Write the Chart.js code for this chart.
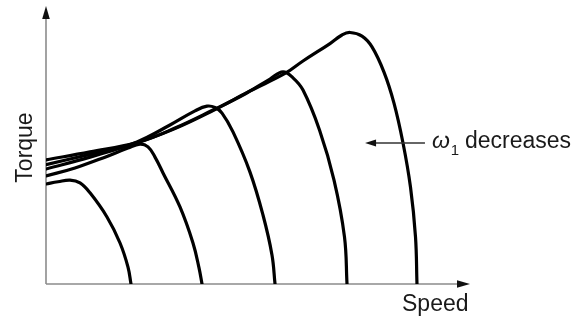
<!DOCTYPE html>
<html>
<head>
<meta charset="utf-8">
<style>
  html, body { margin: 0; padding: 0; background: #fff; }
  #wrap { width: 576px; height: 324px; position: relative; }
</style>
<script src="https://cdn.jsdelivr.net/npm/chart.js@4/dist/chart.umd.min.js"></script>
</head>
<body>
<div id="wrap"><canvas id="c" width="576" height="324"></canvas></div>
<script>
// Torque-speed curves (arbitrary units, axis range 0..100)
const curve1Speed  = [0, 2.84, 5.69, 8.06, 10.43, 14.45, 17.54, 19.43, 20.14];
const curve1Torque = [36.1, 36.9, 37.5, 36.5, 32.9, 24.2, 14.8, 6.1, 0];

const curve2Speed  = [0, 6.87, 13.98, 19.43, 22.27, 24.17, 25.83, 27.73, 31.75, 34.83, 36.26, 36.97];
const curve2Torque = [39.0, 41.9, 45.8, 49.1, 50.5, 49.5, 45.8, 40.1, 27.8, 14.8, 5.8, 0];

const curve3Speed  = [0, 10.43, 21.56, 29.38, 35.31, 38.15, 40.05, 41.71, 44.31, 48.34, 51.42, 53.55, 54.27];
const curve3Torque = [41.5, 45.8, 51.3, 57.4, 62.5, 64.2, 63.7, 61.7, 54.9, 40.4, 24.9, 10.5, 0];

const curve4Speed  = [0, 10.43, 21.56, 30.57, 39.57, 47.16, 53.08, 56.16, 58.53, 60.90, 64.81, 68.25, 70.73, 71.33];
const curve4Torque = [43.1, 46.8, 50.9, 56.3, 62.8, 68.6, 74.0, 76.6, 74.4, 70.0, 55.6, 37.5, 17.0, 0];

const curve5Speed  = [0, 10.43, 21.56, 30.57, 39.57, 48.34, 56.64, 60.90, 67.30, 70.14, 72.04, 74.88, 77.25, 80.09, 82.46, 84.60, 86.37, 87.56, 87.91];
const curve5Torque = [44.8, 47.7, 51.1, 56.1, 62.6, 69.7, 76.0, 80.5, 86.8, 89.9, 90.8, 89.5, 85.6, 76.5, 65.3, 50.9, 35.0, 17.0, 0];

const xTitle = 'Speed';
const yTitle = 'Torque';
const annotationSymbol = 'ω';
const annotationSub = '1';
const annotationText = 'decreases';
// annotation arrow: from speed 89.8 to 75.6 at torque 50.9
const arrowFrom = [89.8, 50.9];
const arrowTo = [75.6, 50.9];

const curves = [
  [curve1Speed, curve1Torque],
  [curve2Speed, curve2Torque],
  [curve3Speed, curve3Torque],
  [curve4Speed, curve4Torque],
  [curve5Speed, curve5Torque]
];

const datasets = curves.map(([xs, ys]) => ({
  data: xs.map((x, i) => ({ x: x, y: ys[i] })),
  showLine: true,
  borderColor: '#000',
  borderWidth: 3.2,
  pointRadius: 0,
  tension: 0.4,
  borderCapStyle: 'round',
  borderJoinStyle: 'round',
  fill: false
}));

const FONT = '"Liberation Sans", Arial, sans-serif';

const decor = {
  id: 'decor',
  beforeDatasetsDraw(chart) {
    const { ctx, chartArea: a, scales } = chart;
    const x0 = scales.x.getPixelForValue(0);
    const y0 = scales.y.getPixelForValue(0);
    ctx.save();
    ctx.strokeStyle = '#8c8c8c';
    ctx.lineWidth = 1.6;
    ctx.beginPath();
    ctx.moveTo(x0, y0);
    ctx.lineTo(a.right - 4, y0);
    ctx.moveTo(x0, y0);
    ctx.lineTo(x0, a.top + 6);
    ctx.stroke();
    ctx.fillStyle = '#111';
    ctx.beginPath();
    ctx.moveTo(a.right + 2, y0);
    ctx.lineTo(a.right - 11, y0 - 3.8);
    ctx.lineTo(a.right - 11, y0 + 3.8);
    ctx.closePath();
    ctx.fill();
    ctx.beginPath();
    ctx.moveTo(x0, a.top - 1);
    ctx.lineTo(x0 - 3.8, a.top + 12);
    ctx.lineTo(x0 + 3.8, a.top + 12);
    ctx.closePath();
    ctx.fill();
    ctx.restore();
  },
  afterDatasetsDraw(chart) {
    const { ctx, chartArea: a, scales } = chart;
    ctx.save();
    ctx.fillStyle = '#1a1a1a';
    ctx.font = '23px ' + FONT;
    ctx.textBaseline = 'alphabetic';
    ctx.textAlign = 'left';
    ctx.fillText(xTitle, a.right - 66, a.bottom + 27);
    ctx.save();
    ctx.translate(a.left - 14.5, (a.top + a.bottom) / 2 + 2);
    ctx.rotate(-Math.PI / 2);
    ctx.textAlign = 'center';
    ctx.fillText(yTitle, 0, 0);
    ctx.restore();
    const ax1 = scales.x.getPixelForValue(arrowFrom[0]);
    const ay = scales.y.getPixelForValue(arrowFrom[1]);
    const ax2 = scales.x.getPixelForValue(arrowTo[0]);
    ctx.strokeStyle = '#333';
    ctx.lineWidth = 1.4;
    ctx.beginPath();
    ctx.moveTo(ax1, ay);
    ctx.lineTo(ax2 + 6, ay);
    ctx.stroke();
    ctx.fillStyle = '#111';
    ctx.beginPath();
    ctx.moveTo(ax2, ay);
    ctx.lineTo(ax2 + 11, ay - 3.5);
    ctx.lineTo(ax2 + 11, ay + 3.5);
    ctx.closePath();
    ctx.fill();
    ctx.fillStyle = '#1a1a1a';
    const tx = ax1 + 7;
    const ty = ay + 5;
    ctx.font = 'italic 23px ' + FONT;
    ctx.fillText(annotationSymbol, tx, ty);
    const w = ctx.measureText(annotationSymbol).width;
    ctx.font = '15px ' + FONT;
    ctx.fillText(annotationSub, tx + w + 1, ty + 7);
    ctx.font = '23px ' + FONT;
    ctx.fillText(annotationText, tx + 33, ty);
    ctx.restore();
  }
};

new Chart(document.getElementById('c'), {
  type: 'scatter',
  data: { datasets },
  options: {
    responsive: false,
    animation: false,
    events: [],
    layout: { padding: { left: 46, right: 108, top: 7, bottom: 40 } },
    plugins: { legend: { display: false }, tooltip: { enabled: false } },
    scales: {
      x: { type: 'linear', min: 0, max: 100, display: false },
      y: { type: 'linear', min: 0, max: 100, display: false }
    }
  },
  plugins: [decor]
});
</script>
</body>
</html>
